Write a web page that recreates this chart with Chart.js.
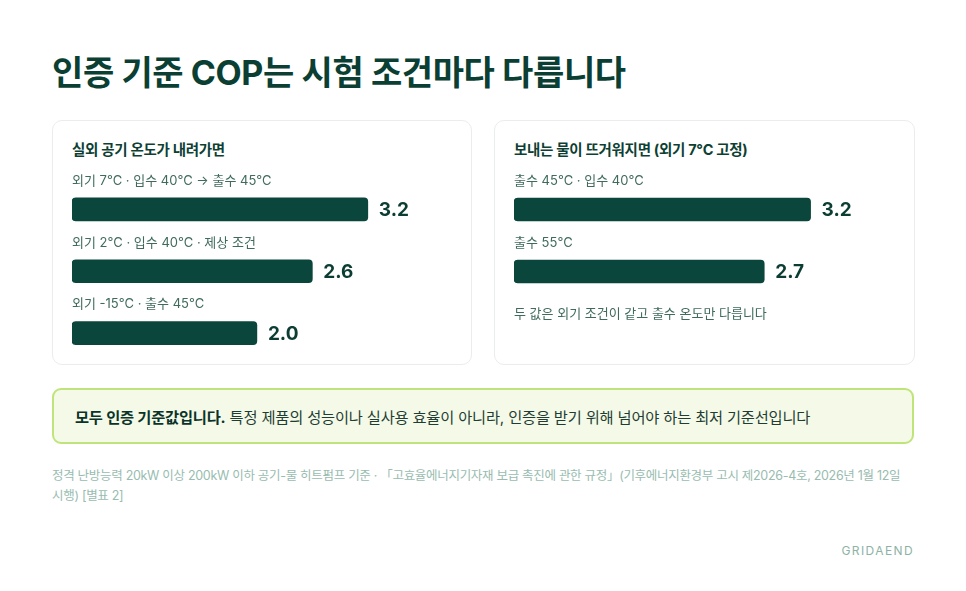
<!DOCTYPE html>
<html lang="ko">
<head>
<meta charset="utf-8">
<script src="https://cdn.jsdelivr.net/npm/chart.js@4.4.1/dist/chart.umd.min.js"></script>
<style>
  html, body { margin:0; padding:0; background:#fff; }
  body { width:966px; height:591px; position:relative; overflow:hidden;
         font-family: "Inter", "Noto Sans CJK KR", sans-serif; color:#0b3f33; }
  .title { position:absolute; left:52px; top:50px; font-size:34px; font-weight:700;
           letter-spacing:-0.4px; color:#0b3f33; margin:0; line-height:46px; }
  .card { position:absolute; top:120px; height:243px; border:1px solid #e9eeec;
          border-radius:10px; background:#fff; }
  .card h2 { position:absolute; left:19px; top:17px; margin:0; font-size:14.5px;
             font-weight:700; color:#0d3f33; letter-spacing:-0.3px; }
  .card .plot { position:absolute; left:0; top:40px; width:100%; height:203px; }
  .note { position:absolute; left:19px; top:182px; font-size:13px; color:#3f6a5c; }
  .callout { position:absolute; left:52px; top:388px; width:858px; height:52px;
             background:#f4fae7; border:2px solid #bfe57a; border-radius:9px; }
  .callout p { margin:0; position:absolute; left:21px; top:15px; font-size:15.3px;
               color:#1f3d35; letter-spacing:-0.2px; }
  .callout b { color:#0b3329; }
  .foot { position:absolute; left:52px; top:466px; width:870px; font-size:12.5px;
          line-height:20px; color:#98bcb0; letter-spacing:-0.3px; word-break:keep-all; }
  .brand { position:absolute; right:52px; top:543px; font-size:12px; letter-spacing:1.4px;
           color:#8db3a6; }
</style>
</head>
<body>
<h1 class="title">인증 기준 COP는 시험 조건마다 다릅니다</h1>

<div class="card" style="left:52px; width:418px;">
  <h2>실외 공기 온도가 내려가면</h2>
  <div class="plot"><canvas id="chart-outdoor"></canvas></div>
</div>

<div class="card" style="left:494px; width:419px;">
  <h2>보내는 물이 뜨거워지면 (외기 7°C 고정)</h2>
  <div class="plot"><canvas id="chart-water"></canvas></div>
  <div class="note">두 값은 외기 조건이 같고 출수 온도만 다릅니다</div>
</div>

<div class="callout"><p><b>모두 인증 기준값입니다.</b> 특정 제품의 성능이나 실사용 효율이 아니라, 인증을 받기 위해 넘어야 하는 최저 기준선입니다</p></div>

<div class="foot">정격 난방능력 20kW 이상 200kW 이하 공기-물 히트펌프 기준 · 「고효율에너지기자재 보급 촉진에 관한 규정」(기후에너지환경부 고시 제2026-4호, 2026년 1월 12일 시행) [별표 2]</div>
<div class="brand">GRIDAEND</div>

<script>
// 데이터
const outdoorLabels = ['외기 7°C · 입수 40°C → 출수 45°C', '외기 2°C · 입수 40°C · 제상 조건', '외기 -15°C · 출수 45°C'];
const outdoorCop = [3.2, 2.6, 2.0];
const waterLabels = ['출수 45°C · 입수 40°C', '출수 55°C'];
const waterCop = [3.2, 2.7];

const BAR_COLOR = '#0a463b';
const X_MAX = 4.1;
const ROW = 62;

// 막대 위 조건 라벨 + 오른쪽 값 라벨
const rowLabels = {
  id: 'rowLabels',
  afterDatasetsDraw(chart){
    const ctx = chart.ctx;
    const meta = chart.getDatasetMeta(0);
    const labels = chart.data.labels;
    const values = chart.data.datasets[0].data;
    ctx.save();
    meta.data.forEach((bar, i) => {
      ctx.textBaseline = 'middle';
      ctx.textAlign = 'left';
      ctx.fillStyle = '#3f6a5c';
      ctx.font = '13px "Inter", "Noto Sans CJK KR", sans-serif';
      ctx.fillText(labels[i], chart.chartArea.left, bar.y - 28.5);
      ctx.fillStyle = '#0b3d33';
      ctx.font = 'bold 19px "Inter", "Noto Sans CJK KR", sans-serif';
      ctx.fillText(values[i].toFixed(1), bar.x + 11, bar.y + 1);
    });
    ctx.restore();
  }
};

function buildChart(canvasId, labels, values){
  const el = document.getElementById(canvasId);
  const rows = labels.length;
  return new Chart(el, {
    type: 'bar',
    data: { labels, datasets: [{ data: values, backgroundColor: BAR_COLOR,
      barThickness: 23, borderRadius: 4, borderSkipped: false }] },
    options: {
      indexAxis: 'y',
      responsive: true,
      maintainAspectRatio: false,
      animation: false,
      layout: { padding: { left: 19, right: 20, top: 17.5, bottom: 203 - 17.5 - rows * ROW } },
      plugins: { legend: { display: false }, tooltip: { enabled: false } },
      scales: {
        x: { display: false, min: 0, max: X_MAX },
        y: { display: false, offset: true }
      }
    },
    plugins: [rowLabels]
  });
}

buildChart('chart-outdoor', outdoorLabels, outdoorCop);
buildChart('chart-water', waterLabels, waterCop);
</script>
</body>
</html>
